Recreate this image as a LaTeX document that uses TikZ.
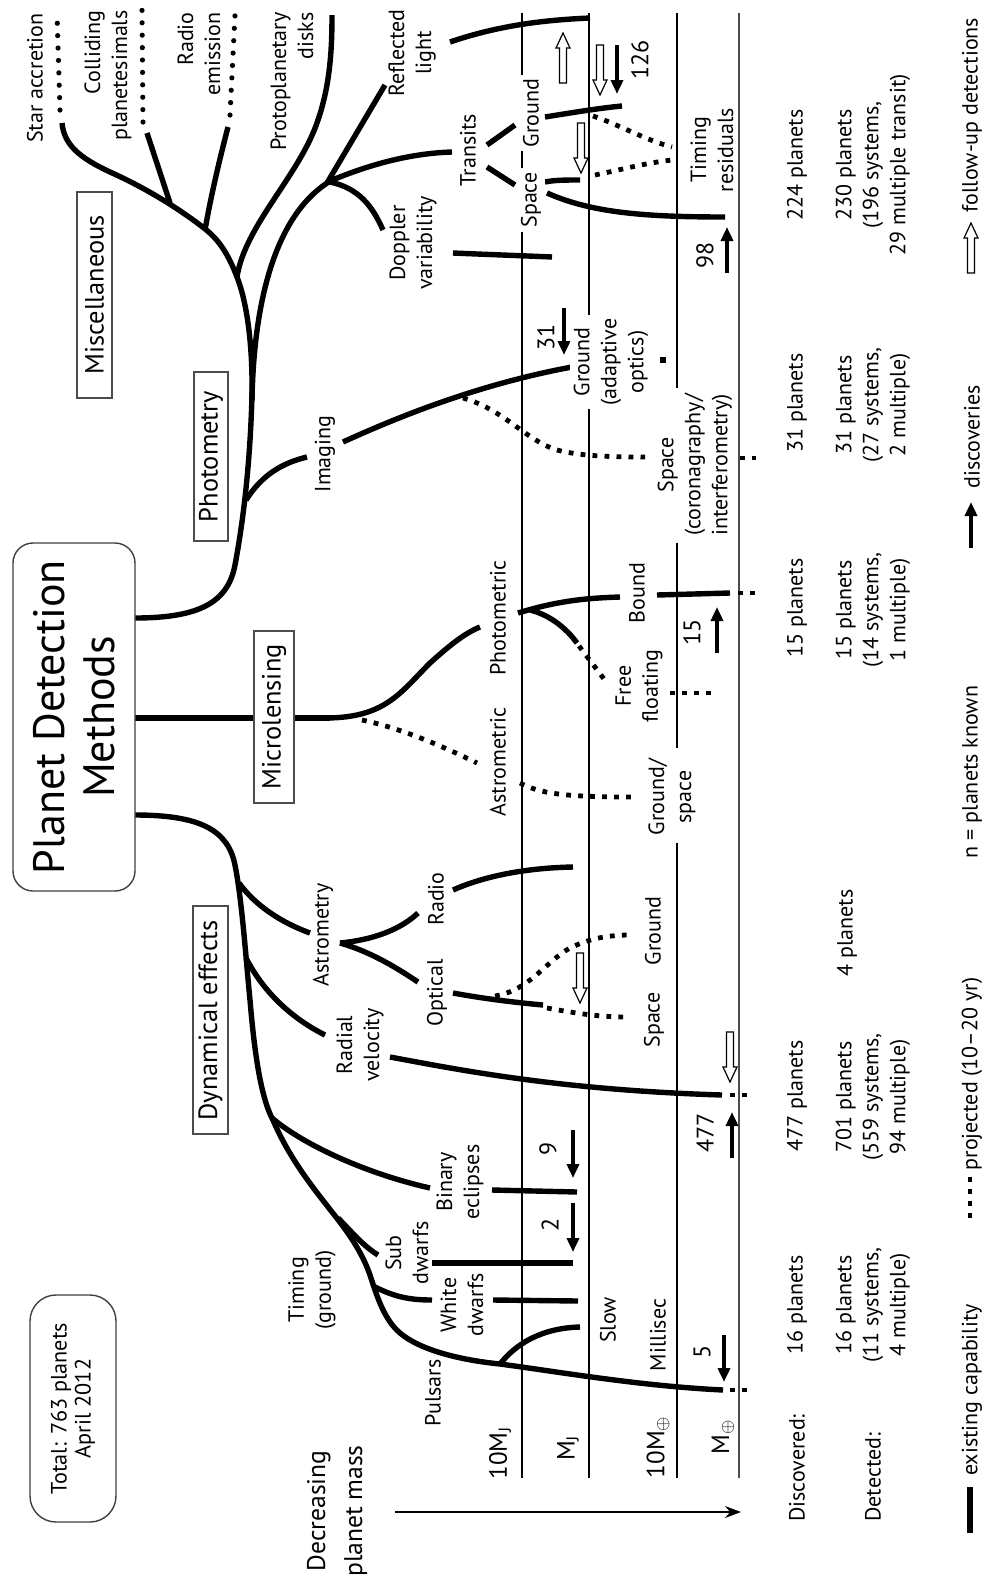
\documentclass[tikz,border=0pt]{standalone}
\usepackage{fontspec}
\setmainfont{PT Sans}
\usetikzlibrary{arrows.meta}
\begin{document}
\begin{tikzpicture}[x=0.5pt,y=-0.5pt,
  lbl/.style={rotate=90, font=\fontsize{11}{13.5}\selectfont, align=center, inner sep=0pt},
  lblw/.style={lbl, fill=white, inner sep=2pt},
  dat/.style={rotate=90, font=\fontsize{11}{13.5}\selectfont, align=center, inner sep=0pt},
  num/.style={rotate=90, font=\fontsize{12}{13.5}\selectfont, inner sep=0pt},
  cat/.style={rotate=90, draw=black!70, line width=0.6pt, fill=white, font=\fontsize{13.2}{15}\selectfont, inner sep=0pt},
  br/.style={line width=2.7pt},
  proj/.style={line width=2.4pt, dash pattern=on 2.4pt off 3.6pt},
  rdot/.style={line width=2.6pt, line cap=round, dash pattern=on 0pt off 6.2pt},
  gridl/.style={line width=0.6pt},
  farrow/.style={line width=2pt, -{Triangle[width=6pt,length=7pt]}},
  oarrow/.pic={\draw[line width=0.6pt, fill=white] (-3.5,0) -- (3.5,0) -- (3.5,35) -- (7,35) -- (0,50) -- (-7,35) -- (-3.5,35) -- cycle;},
]
\fill[white] (0,0) rectangle (988,1581);
\useasboundingbox (0,0) rectangle (988,1581);

% ---------- mass grid ----------
\draw[gridl] (522,13) -- (522,1478);
\draw[gridl] (589,13) -- (589,1478);
\draw[gridl] (677,13) -- (677,388);
\draw[gridl] (677,543) -- (677,748);
\draw[gridl] (677,843) -- (677,1478);
\draw[line width=1.1pt, black!70] (739,13) -- (739,1478);
\coordinate (axs) at (395,1512);
\coordinate (axe) at (741,1512);
\draw[gridl, -{Stealth[length=8pt,width=6pt]}] (axs) -- (axe);

% ---------- photometry / miscellaneous ----------
\draw[br] (135,618) .. controls (200,618) and (228,602) .. (235,565) .. controls (242,528) and (250,470) .. (252,395);
\draw[br] (252,400) .. controls (253,340) and (246,300) .. (237,277) .. controls (226,248) and (215,236) .. (200,225) .. controls (180,210) and (150,190) .. (110,172) .. controls (80,158) and (64,145) .. (62,123);
\draw[br] (252,400) .. controls (254,290) and (280,210) .. (332,180);
\draw[br] (237,277) .. controls (245,225) and (300,175) .. (318,120) .. controls (330,85) and (332,50) .. (332,15);
\draw[br] (170,203) -- (147,133);
\draw[rdot] (143,122) -- (142,10);
\draw[br] (205,230) .. controls (212,190) and (222,150) .. (228,127);
\draw[rdot] (230,115) -- (235,15);
\draw[rdot] (60,110) -- (57,13);

\draw[br] (327,183) -- (385,85);
\draw[br] (450,42) .. controls (500,25) and (545,20) .. (590,18);
\draw[br] (330,181) .. controls (380,160) and (420,153) .. (452,152);
\draw[br] (487,145) -- (515,125);
\draw[br] (487,167) -- (515,185);
\draw[br] (330,182) .. controls (358,188) and (372,205) .. (383,230);
\draw[br] (453,253) .. controls (500,255) and (530,256) .. (552,257);
\draw[br] (545,117) .. controls (570,113) and (600,108) .. (622,106);
\draw[proj] (593,116) .. controls (620,125) and (645,140) .. (672,147);
\draw[br] (545,182) .. controls (555,180) and (565,180) .. (580,180);
\draw[proj] (595,175) .. controls (620,170) and (645,163) .. (672,160);
\draw[br] (547,193) .. controls (590,212) and (640,217) .. (725,217);

\draw[br] (246,500) .. controls (262,475) and (282,463) .. (307,457);
\draw[br] (343,442) .. controls (400,416) and (480,384) .. (572,367);
\draw[proj] (463,398) .. controls (505,410) and (525,440) .. (557,450) .. controls (580,456) and (610,457) .. (645,457);
\draw[proj] (740,458) -- (756,458);
\fill (660,357) rectangle (666,363);

% ---------- microlensing ----------
\draw[br] (135,718) -- (330,718);
\draw[br] (325,718) .. controls (385,718) and (400,693) .. (430,663) .. controls (450,645) and (465,633) .. (480,627);
\draw[proj] (362,720) .. controls (400,728) and (440,745) .. (477,763);
\draw[br] (518,613) .. controls (560,600) and (590,598) .. (620,597);
\draw[br] (530,610) .. controls (550,615) and (566,628) .. (577,643);
\draw[proj] (579,646) -- (607,683);
\draw[br] (657,595) -- (730,593);
\draw[proj] (738,593) -- (756,593);
\draw[proj] (670,693) -- (714,693);
\draw[proj] (520,783) .. controls (540,793) and (560,797) .. (633,797);

% ---------- dynamical effects ----------
\draw[br] (135,815) .. controls (200,815) and (228,830) .. (235,865) .. controls (242,900) and (246,960) .. (250,1000) .. controls (255,1060) and (262,1100) .. (273,1120) .. controls (290,1160) and (315,1190) .. (332,1212) .. controls (348,1232) and (362,1252) .. (370,1275) .. controls (378,1300) and (385,1320) .. (400,1333) .. controls (420,1350) and (460,1360) .. (500,1364) .. controls (560,1372) and (640,1386) .. (723,1390);
\draw[proj] (730,1390) -- (750,1390);
\draw[br] (239,883) .. controls (255,905) and (280,922) .. (310,933);
\draw[br] (340,943) .. controls (372,940) and (400,930) .. (418,913);
\draw[br] (340,943) .. controls (372,952) and (400,970) .. (418,982);
\draw[br] (453,890) .. controls (480,878) and (520,868) .. (573,867);
\draw[br] (453,993) .. controls (480,998) and (510,1002) .. (543,1005);
\draw[proj] (495,996) .. controls (530,990) and (545,962) .. (570,948) .. controls (590,938) and (610,935) .. (630,935);
\draw[proj] (547,1008) .. controls (570,1012) and (595,1017) .. (627,1017);
\draw[br] (246,958) .. controls (265,995) and (295,1020) .. (325,1035);
\draw[br] (390,1057) .. controls (460,1070) and (560,1090) .. (722,1095);
\draw[proj] (730,1095) -- (750,1095);
\draw[br] (272,1118) .. controls (300,1142) and (360,1172) .. (430,1188);
\draw[br] (492,1190) -- (577,1192);
\draw[br] (338,1218) .. controls (352,1232) and (362,1245) .. (378,1255);
\draw[br] (432,1263) -- (573,1263);
\draw[br] (375,1287) .. controls (395,1297) and (410,1300) .. (432,1300);
\draw[br] (493,1300) -- (578,1301);
\draw[br] (500,1364) .. controls (515,1345) and (540,1328) .. (580,1327);

% ---------- arrows ----------
\pic[rotate=180] at (563,83) {oarrow};
\pic at (600,45) {oarrow};
\draw[farrow] (617,45) -- (617,94);
\pic at (581,123) {oarrow};
\draw[farrow] (727,273) -- (727,227);
\draw[farrow] (564,308) -- (564,355);
\draw[farrow] (717,653) -- (717,607);
\draw[farrow] (732,1158) -- (732,1112);
\pic at (730,1032) {oarrow};
\pic at (580,953) {oarrow};
\draw[farrow] (573,1130) -- (573,1178);
\draw[farrow] (573,1203) -- (573,1252);
\draw[farrow] (724,1335) -- (724,1382);

% ---------- boxes ----------
\node[rotate=90, draw=black!75, line width=0.7pt, rounded corners=10pt, minimum width=174pt, minimum height=61pt, align=center, font=\fontsize{22}{25}\selectfont, inner sep=0pt, fill=white] (title) at (74,717) {Planet Detection\\Methods};
\node[rotate=90, draw=black!75, line width=0.7pt, rounded corners=13pt, minimum width=113.5pt, minimum height=43pt, align=center, font=\fontsize{11.1}{12}\selectfont, inner sep=0pt] (total) at (73,1408.5) {Total: 763 planets\\April 2012};
\node[cat, minimum width=103pt, minimum height=17.5pt] (misc) at (94.5,295) {Miscellaneous};
\node[cat, minimum width=84.5pt, minimum height=17pt] (phot) at (211,456.5) {Photometry};
\node[cat, minimum width=86pt, minimum height=20pt] (micro) at (274,717) {Microlensing};
\node[cat, minimum width=114pt, minimum height=17.5pt] (dyn) at (210.5,1020) {Dynamical effects};

% ---------- labels ----------
\node[lbl, anchor=east] (star) at (35,13) {Star accretion};
\node[lbl, align=right, anchor=east] (coll) at (108,10) {Colliding\\planetesimals};
\node[lbl, align=right, anchor=east] (radem) at (199,12) {Radio\\emission};
\node[lbl, align=right, anchor=east] (proto) at (292,12) {Protoplanetary\\disks};
\node[lbl] (refl) at (412,53) {Reflected\\light};
\node[lbl] (trans) at (468,150) {Transits};
\node[lbl] (dopp) at (413,243) {Doppler\\variability};
\node[lblw] (tgr) at (531,113) {Ground};
\node[lblw] (tsp) at (531,200) {Space};
\node[lbl] (tres) at (712,150) {Timing\\residuals};
\node[lbl] (imag) at (325,454) {Imaging};
\node[lblw] (igr) at (611,362) {Ground\\(adaptive\\optics)};
\node[lbl] (isp) at (695,465) {Space\\(coronagraphy/\\interferometry)};
\node[lbl] (photm) at (498,618) {Photometric};
\node[lbl] (astm) at (498,762) {Astrometric};
\node[lbl] (bound) at (637,593) {Bound};
\node[lbl] (free) at (639,686) {Free\\floating};
\node[lbl] (mgs) at (672,797) {Ground/\\space};
\node[lbl] (astr) at (323,935) {Astrometry};
\node[lbl] (radv) at (360,1045) {Radial\\velocity};
\node[lbl] (radio) at (436,899) {Radio};
\node[lbl] (opt) at (437,993) {Optical};
\node[lbl] (agr) at (653,931) {Ground};
\node[lbl] (asp) at (654,1020) {Space};
\node[lbl] (bin) at (460,1182) {Binary\\eclipses};
\node[lbl] (timg) at (312,1290) {Timing\\(ground)};
\node[lbl] (sub) at (407,1253) {Sub\\dwarfs};
\node[lbl] (white) at (462,1305) {White\\dwarfs};
\node[lbl] (puls) at (433,1393) {Pulsars};
\node[lbl] (slow) at (608,1320) {Slow};
\node[lbl] (milli) at (658,1335) {Millisec};

% numbers
\node[num] (n126) at (640,60) {126};
\node[num] (n98) at (705,255) {98};
\node[num] (n31) at (546,337) {31};
\node[num] (n15) at (692,632) {15};
\node[num] (n477) at (705,1133) {477};
\node[num] (n9) at (548,1149) {9};
\node[num] (n2) at (550,1225) {2};
\node[num] (n5) at (702,1352) {5};

% mass labels
\node[num, font=\fontsize{12.5}{13.5}\selectfont] (m1) at (500,1453) {10M\textsubscript{J}};
\node[num, font=\fontsize{12.5}{13.5}\selectfont] (m2) at (568,1448) {M\textsubscript{J}};
\node[num, font=\fontsize{12.5}{13.5}\selectfont] (m3) at (658,1447) {10M\textsubscript{$\oplus$}};
\node[num, font=\fontsize{12.5}{13.5}\selectfont] (m4) at (723,1437) {M\textsubscript{$\oplus$}};
\node[lbl, font=\fontsize{12.8}{18.5}\selectfont] (decr) at (337,1511) {Decreasing\\planet mass};

% counts
\node[dat, anchor=west] (disc) at (797,1522) {Discovered:};
\node[dat, anchor=west] (dete) at (873,1522) {Detected:};
\node[dat] (d1) at (797,1305) {16 planets};
\node[dat] (d2) at (797,1096) {477 planets};
\node[dat] (d3) at (797,608) {15 planets};
\node[dat] (d4) at (797,403) {31 planets};
\node[dat] (d5) at (797,165) {224 planets};
\node[dat] (e1) at (873,1305) {16 planets\\(11 systems,\\4 multiple)};
\node[dat] (e2) at (873,1097) {701 planets\\(559 systems,\\94 multiple)};
\node[dat] (e3) at (847,933) {4 planets};
\node[dat] (e4) at (873,610) {15 planets\\(14 systems,\\1 multiple)};
\node[dat] (e5) at (873,405) {31 planets\\(27 systems,\\2 multiple)};
\node[dat] (e6) at (873,165) {230 planets\\(196 systems,\\29 multiple transit)};

% legend
\draw[line width=3pt] (970,1487) -- (970,1533);
\node[dat] (lg1) at (972,1390) {existing capability};
\draw[proj] (970,1177) -- (970,1222);
\node[dat] (lg2) at (972,1074) {projected (10--20 yr)};
\node[dat] (lg3) at (972,772) {n = planets known};
\draw[farrow] (971,548) -- (971,502);
\node[dat] (lg4) at (972,437) {discoveries};
\pic[rotate=180] at (971,273) {oarrow};
\node[dat] (lg5) at (972,115) {follow-up detections};
\end{tikzpicture}
\end{document}
